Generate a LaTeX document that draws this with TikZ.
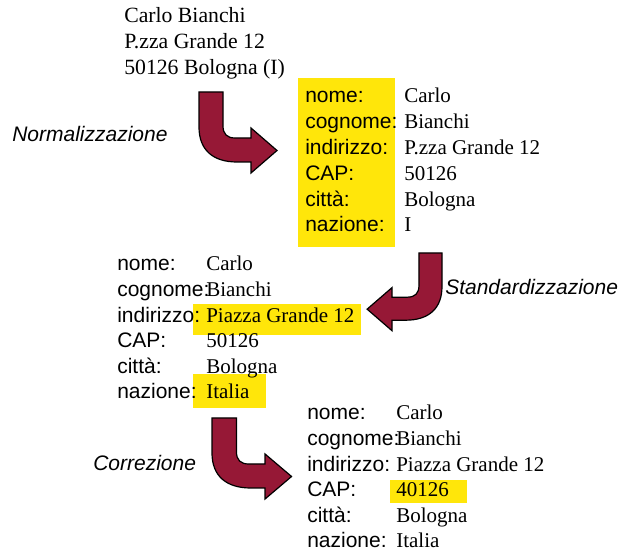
\documentclass[tikz,border=0pt]{standalone}
\usepackage{fontspec}
\setmainfont{Liberation Serif}
\setsansfont{Liberation Sans}
\definecolor{hl}{RGB}{255,230,10}
\definecolor{wine}{RGB}{150,24,54}
\tikzset{
  bent/.pic={
    \draw[bigarrow] (0,0) -- (24,0) -- (24,34) .. controls (24,42) and (28,46) .. (36,46)
      -- (52,46) -- (52,36) -- (78,58.5) -- (52,81) -- (52,70) -- (38,70)
      .. controls (14,70) and (0,58) .. (0,35) -- cycle;
  }
}
\begin{document}
\begin{tikzpicture}[x=0.75pt,y=-0.75pt,
  lab/.style={anchor=base west, inner sep=0pt, font=\sffamily\fontsize{15.75}{19}\selectfont},
  val/.style={anchor=base west, inner sep=0pt, font=\rmfamily\fontsize{15.75}{19}\selectfont},
  topval/.style={anchor=base west, inner sep=0pt, font=\rmfamily\fontsize{16.3}{19}\selectfont},
  capt/.style={anchor=base west, inner sep=0pt, font=\sffamily\itshape\fontsize{15.75}{19}\selectfont},
  bigarrow/.style={fill=wine, draw=black, line width=0.9pt, line join=miter}]
\useasboundingbox (0,0) rectangle (626,552);

% highlights
\fill[hl] (298,78) rectangle (395,247);
\fill[hl] (193,304) rectangle (361,335);
\fill[hl] (193,374) rectangle (266,408);
\fill[hl] (390,480) rectangle (467,503);

% original address
\node[topval] (a1) at (124,23) {Carlo Bianchi};
\node[topval] (a2) at (124,49) {P.zza Grande 12};
\node[topval] (a3) at (124,75) {50126 Bologna (I)};

% block 1
\foreach \i/\l/\v in {0/nome:/Carlo,1/cognome:/Bianchi,2/indirizzo:/P.zza Grande 12,3/CAP:/50126,4/città:/Bologna,5/nazione:/I}{
  \node[lab] (bl\i) at (305,{103+25.8*\i}) {\l};
  \node[val] (bv\i) at (404,{103+25.8*\i}) {\v};
}
% block 2
\foreach \i/\l/\v in {0/nome:/Carlo,1/cognome:/Bianchi,2/indirizzo:/Piazza Grande 12,3/CAP:/50126,4/città:/Bologna,5/nazione:/Italia}{
  \node[lab] (cl\i) at (117,{271+25.6*\i}) {\l};
  \node[val] (cv\i) at (206,{271+25.6*\i}) {\v};
}
% block 3
\foreach \i/\l/\v in {0/nome:/Carlo,1/cognome:/Bianchi,2/indirizzo:/Piazza Grande 12,3/CAP:/40126,4/città:/Bologna,5/nazione:/Italia}{
  \node[lab] (dl\i) at (307,{420+25.6*\i}) {\l};
  \node[val] (dv\i) at (396,{420+25.6*\i}) {\v};
}

% captions
\node[capt] (n1) at (12,142) {Normalizzazione};
\node[capt] (n2) at (445,295) {Standardizzazione};
\node[capt] (n3) at (93,471) {Correzione};

% arrows
\pic at (199,92) {bent};
\pic[xscale=-0.96, yscale=0.96] at (442,253) {bent};
\pic[xscale=1.02] at (212,418) {bent};
\end{tikzpicture}
\end{document}
